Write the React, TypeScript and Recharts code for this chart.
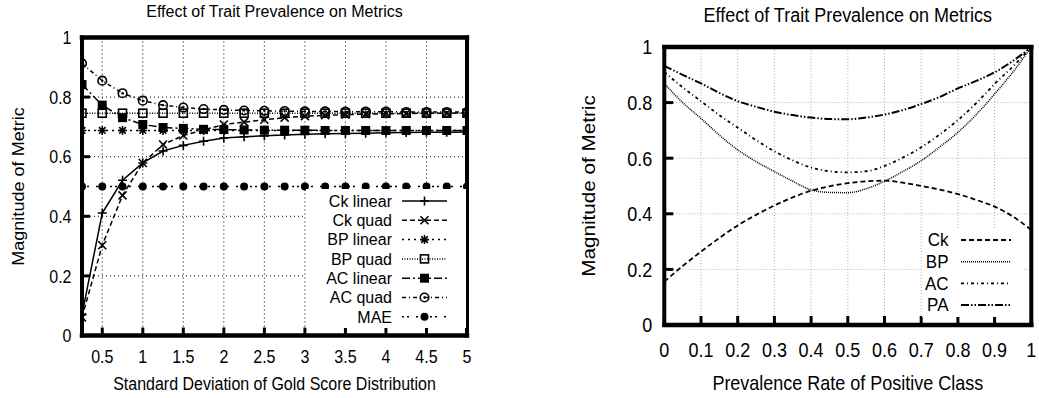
import React from 'react';
import { LineChart, Line, XAxis, YAxis, CartesianGrid, Legend } from 'recharts';

const FONT = '"Liberation Sans", Arial, Helvetica, sans-serif';

// ---------- Left panel data ----------
const sdLevels = [0.25, 0.5, 0.75, 1, 1.25, 1.5, 1.75, 2, 2.25, 2.5, 2.75, 3, 3.25, 3.5, 3.75, 4, 4.25, 4.5, 4.75, 5];
const ckLinear = [0.07, 0.411, 0.521, 0.579, 0.619, 0.638, 0.652, 0.663, 0.667, 0.67, 0.673, 0.675, 0.677, 0.678, 0.679, 0.68, 0.681, 0.682, 0.682, 0.683];
const ckQuad = [0.061, 0.303, 0.47, 0.579, 0.641, 0.671, 0.69, 0.708, 0.716, 0.724, 0.731, 0.736, 0.739, 0.741, 0.743, 0.744, 0.745, 0.746, 0.746, 0.747];
const bpLinear = [0.688, 0.688, 0.688, 0.688, 0.688, 0.688, 0.688, 0.688, 0.688, 0.688, 0.688, 0.688, 0.688, 0.688, 0.688, 0.688, 0.688, 0.688, 0.688, 0.688];
const bpQuad = [0.746, 0.746, 0.746, 0.746, 0.746, 0.746, 0.746, 0.746, 0.746, 0.746, 0.746, 0.746, 0.746, 0.746, 0.746, 0.746, 0.746, 0.746, 0.746, 0.746];
const acLinear = [0.842, 0.773, 0.731, 0.708, 0.698, 0.695, 0.692, 0.691, 0.69, 0.689, 0.689, 0.689, 0.688, 0.688, 0.688, 0.688, 0.688, 0.688, 0.688, 0.688];
const acQuad = [0.913, 0.855, 0.813, 0.788, 0.773, 0.765, 0.76, 0.757, 0.755, 0.754, 0.753, 0.752, 0.752, 0.751, 0.751, 0.751, 0.75, 0.75, 0.75, 0.75];
const mae = [0.5, 0.5, 0.5, 0.5, 0.5, 0.5, 0.5, 0.5, 0.5, 0.5, 0.5, 0.5, 0.5, 0.5, 0.5, 0.5, 0.5, 0.5, 0.5, 0.5];
const leftXTicks = [0.5, 1, 1.5, 2, 2.5, 3, 3.5, 4, 4.5, 5];
const leftYTicks = [0, 0.2, 0.4, 0.6, 0.8, 1];

// ---------- Right panel data ----------
const prevalence = [0, 0.05, 0.1, 0.15, 0.2, 0.25, 0.3, 0.35, 0.4, 0.45, 0.5, 0.55, 0.6, 0.65, 0.7, 0.75, 0.8, 0.85, 0.9, 0.95, 1];
const ckPrev = [0.156, 0.212, 0.264, 0.313, 0.358, 0.396, 0.43, 0.459, 0.483, 0.499, 0.51, 0.517, 0.519, 0.512, 0.5, 0.487, 0.471, 0.45, 0.426, 0.39, 0.342];
const bpPrev = [0.869, 0.8, 0.743, 0.683, 0.63, 0.588, 0.552, 0.517, 0.486, 0.477, 0.476, 0.49, 0.517, 0.552, 0.591, 0.64, 0.693, 0.757, 0.831, 0.91, 1.0];
const acPrev = [0.91, 0.855, 0.805, 0.755, 0.71, 0.665, 0.625, 0.592, 0.566, 0.553, 0.549, 0.553, 0.572, 0.602, 0.639, 0.685, 0.737, 0.798, 0.867, 0.93, 1.0];
const paPrev = [0.932, 0.9, 0.869, 0.835, 0.805, 0.785, 0.767, 0.755, 0.746, 0.741, 0.74, 0.746, 0.757, 0.773, 0.795, 0.82, 0.851, 0.878, 0.909, 0.95, 1.0];
const rightXTicks = [0, 0.1, 0.2, 0.3, 0.4, 0.5, 0.6, 0.7, 0.8, 0.9, 1];
const rightYTicks = [0, 0.2, 0.4, 0.6, 0.8, 1];

const leftData = sdLevels.map((x, i) => ({
  x,
  ckLinear: ckLinear[i],
  ckQuad: ckQuad[i],
  bpLinear: bpLinear[i],
  bpQuad: bpQuad[i],
  acLinear: acLinear[i],
  acQuad: acQuad[i],
  mae: mae[i],
}));

const rightData = prevalence.map((x, i) => ({ x, ck: ckPrev[i], bp: bpPrev[i], ac: acPrev[i], pa: paPrev[i] }));

type Kind = 'plus' | 'cross' | 'star' | 'sqOpen' | 'sqFill' | 'circDot' | 'circFill';

const leftSeries: { key: string; name: string; dash?: string; marker: Kind }[] = [
  { key: 'ckLinear', name: 'Ck linear', marker: 'plus' },
  { key: 'ckQuad', name: 'Ck quad', dash: '5 3', marker: 'cross' },
  { key: 'bpLinear', name: 'BP linear', dash: '2 4', marker: 'star' },
  { key: 'bpQuad', name: 'BP quad', dash: '1 1.5', marker: 'sqOpen' },
  { key: 'acLinear', name: 'AC linear', dash: '8 3 2 3', marker: 'sqFill' },
  { key: 'acQuad', name: 'AC quad', dash: '4 3 1 3', marker: 'circDot' },
  { key: 'mae', name: 'MAE', dash: '2 3 2 7', marker: 'circFill' },
];

const rightSeries: { key: string; name: string; dash: string; width: number }[] = [
  { key: 'ck', name: 'Ck', dash: '5 3', width: 1.8 },
  { key: 'bp', name: 'BP', dash: '1 1', width: 1.5 },
  { key: 'ac', name: 'AC', dash: '3 3 1 3', width: 1.8 },
  { key: 'pa', name: 'PA', dash: '8 2 1.5 2 1.5 2', width: 2 },
];

// Text that is stretched vertically like the reference's raster
function SText({
  x,
  y,
  size,
  anchor = 'middle',
  dy,
  sy = 1.17,
  rotate,
  children,
}: {
  x: number;
  y: number;
  size: number;
  anchor?: 'start' | 'middle' | 'end';
  dy?: string;
  sy?: number;
  rotate?: number;
  children: React.ReactNode;
}) {
  const tf = `translate(${x} ${y}) scale(1 ${sy})${rotate ? ` rotate(${rotate})` : ''}`;
  return (
    <text transform={tf} x={0} y={0} dy={dy} textAnchor={anchor} fontSize={size} fontFamily={FONT} fill="#000">
      {children}
    </text>
  );
}

function Marker({ cx, cy, kind }: { cx: number; cy: number; kind: Kind }) {
  if (cx == null || cy == null) return null;
  const s = 4.5;
  const st = { stroke: '#000', strokeWidth: 1.6, fill: 'none' };
  switch (kind) {
    case 'plus':
      return <path d={`M${cx - s},${cy}H${cx + s}M${cx},${cy - s}V${cy + s}`} {...st} />;
    case 'cross':
      return <path d={`M${cx - 4},${cy - 4}L${cx + 4},${cy + 4}M${cx - 4},${cy + 4}L${cx + 4},${cy - 4}`} {...st} />;
    case 'star':
      return (
        <path
          d={`M${cx - s},${cy}H${cx + s}M${cx},${cy - s}V${cy + s}M${cx - 3.3},${cy - 3.3}L${cx + 3.3},${cy + 3.3}M${cx - 3.3},${cy + 3.3}L${cx + 3.3},${cy - 3.3}`}
          {...st}
        />
      );
    case 'sqOpen':
      return <rect x={cx - 4} y={cy - 4} width={8} height={8} {...st} />;
    case 'sqFill':
      return <rect x={cx - 4.5} y={cy - 4.5} width={9} height={9} fill="#000" />;
    case 'circDot':
      return (
        <g>
          <circle cx={cx} cy={cy} r={4.3} {...st} />
          <circle cx={cx} cy={cy} r={1.2} fill="#000" />
        </g>
      );
    case 'circFill':
      return <circle cx={cx} cy={cy} r={4} fill="#000" />;
  }
  return null;
}

function LeftLegend() {
  return (
    <svg width={160} height={139} style={{ display: 'block' }}>
      {leftSeries.map((s, i) => {
        const y = 12 + i * 19.3;
        return (
          <g key={s.key}>
            <SText x={86} y={y} dy="0.36em" anchor="end" size={16} sy={1.0}>
              {s.name}
            </SText>
            <line x1={96} x2={141} y1={y} y2={y} stroke="#000" strokeWidth={1.5} strokeDasharray={s.dash} />
            <Marker cx={118.5} cy={y} kind={s.marker} />
          </g>
        );
      })}
    </svg>
  );
}

function RightLegend() {
  return (
    <svg width={100} height={88} style={{ display: 'block' }}>
      {rightSeries.map((s, i) => {
        const y = 11 + i * 21.7;
        return (
          <g key={s.key}>
            <SText x={26.5} y={y} dy="0.36em" anchor="end" size={17} sy={1.04}>
              {s.name}
            </SText>
            <line x1={39} x2={89} y1={y} y2={y} stroke="#000" strokeWidth={s.width} strokeDasharray={s.dash} />
          </g>
        );
      })}
    </svg>
  );
}

const hBorder = { stroke: '#000', strokeWidth: 4.5, strokeLinecap: 'square' as const };
const vBorder = { stroke: '#000', strokeWidth: 4, strokeLinecap: 'square' as const };
const tickLn = { stroke: '#000', strokeWidth: 3 };

const xTick = (size: number) => (p: any) => (
  <SText x={p.x} y={p.y} size={size} anchor="middle" dy="0.71em">
    {p.payload.value}
  </SText>
);
const yTick = (size: number) => (p: any) => (
  <SText x={p.x} y={p.y} size={size} anchor="end" dy="0.355em">
    {p.payload.value}
  </SText>
);

export default function App() {
  return (
    <div style={{ position: 'absolute', left: 0, top: 0, width: 1039, height: 398, background: '#fff', fontFamily: FONT }}>
      {/* Left chart */}
      <div style={{ position: 'absolute', left: 0, top: 0 }}>
        <LineChart width={520} height={398} data={leftData} margin={{ top: 37.5, right: 53, bottom: 32.5, left: 42 }}>
          <CartesianGrid xAxisId="x" yAxisId="l" stroke="#000" strokeDasharray="1 3" strokeWidth={1} />
          <XAxis
            xAxisId="x"
            type="number"
            dataKey="x"
            domain={[0.25, 5]}
            ticks={leftXTicks}
            allowDataOverflow
            height={30}
            axisLine={hBorder}
            tickLine={tickLn}
            tickSize={-8}
            tickMargin={22.5}
            tick={xTick(16)}
            label={{
              content: (p: any) => (
                <SText x={p.viewBox.x + p.viewBox.width / 2} y={390} size={16}>
                  Standard Deviation of Gold Score Distribution
                </SText>
              ),
            }}
          />
          <XAxis
            xAxisId="top"
            orientation="top"
            mirror
            type="number"
            dataKey="x"
            domain={[0.25, 5]}
            ticks={leftXTicks}
            allowDataOverflow
            axisLine={hBorder}
            tickLine={tickLn}
            tickSize={8}
            tick={false}
            label={{
              content: (p: any) => (
                <SText x={p.viewBox.x + p.viewBox.width / 2} y={16.5} size={16} sy={1.08}>
                  Effect of Trait Prevalence on Metrics
                </SText>
              ),
            }}
          />
          <YAxis
            yAxisId="l"
            domain={[0, 1]}
            ticks={leftYTicks}
            width={40}
            axisLine={vBorder}
            tickLine={tickLn}
            tickSize={-8}
            tickMargin={18.5}
            tick={yTick(16)}
            label={{
              content: () => (
                <SText x={23.5} y={186.5} rotate={-90} size={16} sy={1.13}>
                  Magnitude of Metric
                </SText>
              ),
            }}
          />
          <YAxis
            yAxisId="r"
            orientation="right"
            mirror
            domain={[0, 1]}
            ticks={leftYTicks}
            axisLine={vBorder}
            tickLine={tickLn}
            tickSize={8}
            tick={false}
          />
          {leftSeries.map((s) => (
            <Line
              key={s.key}
              xAxisId="x"
              yAxisId="l"
              type="linear"
              dataKey={s.key}
              name={s.name}
              stroke="#000"
              strokeWidth={1.5}
              strokeDasharray={s.dash}
              isAnimationActive={false}
              activeDot={false}
              dot={(p: any) => <Marker key={`${s.key}-${p.index}`} cx={p.cx} cy={p.cy} kind={s.marker} />}
            />
          ))}
          <Legend
            layout="vertical"
            align="center"
            verticalAlign="middle"
            wrapperStyle={{ left: 306, top: 189, width: 160, height: 139, background: '#fff', margin: 0, padding: 0 }}
            content={() => <LeftLegend />}
          />
        </LineChart>
      </div>

      {/* Right chart */}
      <div style={{ position: 'absolute', left: 520, top: 0 }}>
        <LineChart width={519} height={398} data={rightData} margin={{ top: 47, right: 7.7, bottom: 43, left: 104.3 }}>
          <CartesianGrid xAxisId="x" yAxisId="l" stroke="#b0b0b0" strokeDasharray="1 2" strokeWidth={1} />
          <XAxis
            xAxisId="x"
            type="number"
            dataKey="x"
            domain={[0, 1]}
            ticks={rightXTicks}
            height={30}
            axisLine={hBorder}
            tickLine={tickLn}
            tickSize={-9}
            tickMargin={25.7}
            tick={xTick(18)}
            label={{
              content: (p: any) => (
                <SText x={p.viewBox.x + p.viewBox.width / 2} y={390} size={18} sy={1.15}>
                  Prevalence Rate of Positive Class
                </SText>
              ),
            }}
          />
          <XAxis
            xAxisId="top"
            orientation="top"
            mirror
            type="number"
            dataKey="x"
            domain={[0, 1]}
            ticks={rightXTicks}
            axisLine={hBorder}
            tickLine={tickLn}
            tickSize={9}
            tick={false}
            label={{
              content: (p: any) => (
                <SText x={p.viewBox.x + p.viewBox.width / 2} y={21.5} size={18} sy={1.1}>
                  Effect of Trait Prevalence on Metrics
                </SText>
              ),
            }}
          />
          <YAxis
            yAxisId="l"
            domain={[0, 1]}
            ticks={rightYTicks}
            width={40}
            axisLine={vBorder}
            tickLine={tickLn}
            tickSize={-9}
            tickMargin={21}
            tick={yTick(18)}
            label={{
              content: () => (
                <SText x={75} y={186} rotate={-90} size={18} sy={1.15}>
                  Magnitude of Metric
                </SText>
              ),
            }}
          />
          <YAxis
            yAxisId="r"
            orientation="right"
            mirror
            domain={[0, 1]}
            ticks={rightYTicks}
            axisLine={vBorder}
            tickLine={tickLn}
            tickSize={9}
            tick={false}
          />
          {rightSeries.map((s) => (
            <Line
              key={s.key}
              xAxisId="x"
              yAxisId="l"
              type="monotone"
              dataKey={s.key}
              name={s.name}
              stroke="#000"
              strokeWidth={s.width}
              strokeDasharray={s.dash}
              dot={false}
              activeDot={false}
              isAnimationActive={false}
            />
          ))}
          <Legend
            layout="vertical"
            align="center"
            verticalAlign="middle"
            wrapperStyle={{ left: 402, top: 229, width: 100, height: 88, background: '#fff', margin: 0, padding: 0 }}
            content={() => <RightLegend />}
          />
        </LineChart>
      </div>
    </div>
  );
}
